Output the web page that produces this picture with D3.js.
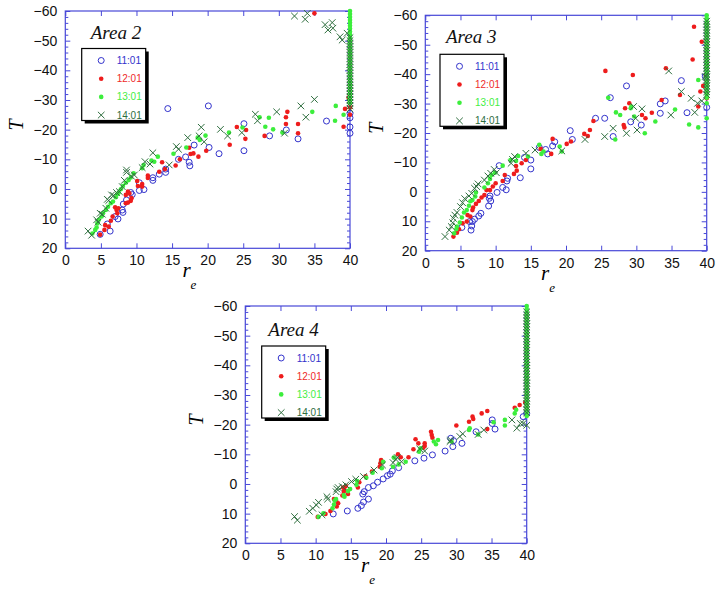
<!DOCTYPE html>
<html><head><meta charset="utf-8">
<script src="https://cdn.jsdelivr.net/npm/d3@7"></script>
<style>body{margin:0;background:#fff}svg{display:block}</style>
</head><body>
<svg id="c" width="719" height="601"></svg>
<script>
// ---------- data ----------
const xTicks = [0,5,10,15,20,25,30,35,40];
const yTicks = [-60,-50,-40,-30,-20,-10,0,10,20];
const yMinorTicks = [-58,-56,-54,-52,-48,-46,-44,-42,-38,-36,-34,-32,-28,-26,-24,-22,-18,-16,-14,-12,-8,-6,-4,-2,2,4,6,8,12,14,16,18];
const seriesNames = ["11:01","12:01","13:01","14:01"];
const areaTitles = ["Area 2","Area 3","Area 4"];

// Area 2
const a2_1101 = [[4.9,15.3],[5.9,11.8],[6.3,14.2],[7.0,9.3],[7.4,10.1],[8.0,7.1],[8.1,7.9],[8.15,5.1],[8.6,3.7],[9.2,1.2],[9.4,1.9],[10.4,-2.1],[10.4,0.5],[11.05,0.2],[12.3,-2.9],[12.3,-3.8],[13.2,-5],[14.1,-5.6],[14.1,-6.7],[14.4,-27.1],[15.9,-10],[16.9,-10.8],[17.4,-9],[17.5,-7.8],[18.1,-14.8],[20.1,-28],[20.2,-14],[21.6,-11.9],[25.1,-22],[25.1,-12.9],[28.7,-17.9],[31.05,-19.9],[32.7,-16.9],[36.7,-22.9],[40,-18.8],[40,-20.9],[40,-24],[40,-25.5]];
const a2_1201 = [[4.9,15.4],[5.5,13.8],[5.6,12.2],[6.1,12.7],[6.4,10.7],[6.65,9.3],[7.0,6.2],[7.2,7.1],[7.3,8.2],[7.45,6.5],[8.5,2],[8.8,0.9],[9.0,1.5],[9.2,4],[8.5,4.8],[8.8,4.6],[9.3,3.1],[10.1,-2.7],[10.2,-1],[10.8,-1.7],[10.8,-0.8],[11.6,-3.7],[11.6,-4.5],[13.2,-5.8],[13.6,-9],[14,-6.7],[15.5,-7.9],[16.1,-10],[17.4,-13.9],[17.6,-11.8],[18,-12],[18.7,-10.9],[19.8,-12.9],[23.1,-14.9],[24.1,-20.9],[25.4,-19.9],[25.3,-16.9],[28,-17.9],[31,-24.2],[31.2,-26],[31,-21.9],[32.7,-21.9],[32.7,-18.8],[39.1,-21],[39.3,-27],[39.8,-30.8],[40,-25],[40,-27.5],[35,-59.2]];
const a2_1301 = [[3.8,15],[4.2,13.8],[4.4,13],[4.5,11.6],[4.7,10.4],[5.1,9.3],[5.3,8.2],[5.7,7.1],[6.0,6],[6.4,4.8],[6.7,4.2],[7.1,2.8],[7.3,1.8],[7.5,1.2],[7.8,0.1],[8.1,-1],[8.5,-2.1],[8.9,-3],[9.2,-3.9],[9.6,-5.3],[10.8,-7],[11,-8.1],[12.1,-9.6],[12.5,-9.2],[13,-10.9],[15.2,-11.9],[17,-14],[18.6,-17.3],[18.9,-16.5],[19.7,-18],[23,-19],[24.9,-20.7],[27.3,-24.2],[28.1,-21],[28.6,-24],[29.2,-20.1],[30.5,-19],[34.7,-26],[37.9,-23],[38,-28],[39.1,-25],[39.9,-30]];
const a2_1301_edge = [-60,-59,-58,-57,-56,-55,-54,-53,-52,-51,-50,-49,-48,-47,-46,-45,-44,-43,-42,-41,-40,-39,-38,-37,-36,-35,-34,-33,-32,-31,-30,-29];
const a2_1401 = [[3.2,14.2],[3.7,15.6],[4.4,10.4],[4.6,11.2],[4.9,8.2],[5.2,8.5],[5.7,6.5],[5.9,3.5],[6.1,3.9],[6.5,2],[6.8,2.2],[7.2,1.2],[7.6,0.9],[8,-0.8],[8.3,-2.9],[8.6,-6.4],[8.6,-5.6],[9.3,-4.3],[9.7,-4.7],[10.8,-7.2],[11.2,-9.2],[11.9,-8.4],[12.3,-12.2],[14.6,-8.1],[15.6,-14.3],[15.9,-13.4],[17.2,-17.3],[18.8,-17.9],[19.1,-20.8],[19.5,-15.9],[21.8,-20.1],[22.8,-17.9],[24.8,-19],[26.7,-25.2],[27,-23],[29.7,-26],[30.8,-18.8],[33.1,-28],[33.8,-24.2],[35,-30.2],[32.2,-58.3],[33.7,-57.2],[34,-59.2],[36.5,-55.4],[36.9,-53.6],[37.5,-56.1],[37.6,-54.2],[38.6,-51.3],[38.9,-50.2],[39.6,-52.5]];
const a2_1401_edge = [-51,-50,-49,-48,-47,-46,-45,-44,-43,-42,-41,-40,-39,-38,-37,-36,-35,-34,-33,-32,-31,-30,-29,-28,-27];

// Area 3
const a3_1101 = [[5.2,12.1],[6.5,13],[6.6,11.6],[6.7,10.1],[6.3,10.1],[7.0,9.3],[7.6,8.2],[7.9,7.3],[9,4.8],[9.3,3.1],[9.1,2.2],[9.2,1.4],[10.2,0.2],[11,-1.5],[11.5,-0.7],[11.6,-3.7],[11.7,-4.6],[13.5,-4.8],[15,-7.8],[15,-10.8],[10.5,-8.9],[14.1,-11.7],[16.2,-15.1],[17.1,-14.4],[17.4,-12.9],[18.1,-15.6],[18.4,-17],[20.6,-20.8],[20.9,-17.8],[24.2,-25],[25.5,-25],[26.3,-32],[26.7,-18.8],[28.6,-36],[29.2,-23.8],[30.7,-22.7],[33.4,-26.7],[33.4,-29.9],[34.1,-30.9],[36.4,-37.8],[37.2,-26.9],[40,-28.7],[39.8,-39.2]];
const a3_1201 = [[4,15.2],[4.5,13.9],[4.8,12.7],[5.3,10.7],[5.9,10.1],[6,7.9],[6.4,8.4],[6.7,6.2],[6.8,5.3],[7.2,4.1],[7.6,3.1],[8,1.9],[8.4,1.1],[8.7,-0.6],[9.2,-0.6],[9.6,-1.8],[10,-2.9],[11,-3.7],[11.3,-5.7],[12.6,-6.1],[12.9,-8.8],[13,-7.2],[13.7,-9.7],[14.3,-10.8],[16.4,-14.6],[17.9,-12.9],[18.1,-18],[20.1,-16.3],[20.7,-17.1],[22.6,-19.7],[23.1,-19],[23.4,-21],[23.9,-24.1],[25.6,-41.1],[28.4,-28.4],[29,-30.1],[29.5,-39.7],[28.2,-22.7],[28.3,-21.9],[30.8,-26.1],[31.3,-25],[32.2,-26.9],[33.6,-31.2],[34.2,-42],[36.2,-32.9],[38,-45],[38.2,-56.1],[39.3,-51],[38.8,-29],[39.1,-34.1],[39.5,-36],[39.9,-39.7],[40,-31.8],[40,-38]];
const a3_1301 = [[4.1,14.1],[4.4,12.7],[4.5,11.8],[4.9,10.4],[5.2,8.7],[5.5,7],[5.9,6.2],[6.2,4.7],[6.4,3.2],[6.7,2.8],[7.1,1.6],[7.2,0.2],[8.4,-1.5],[8.9,-2.9],[9.2,-4.4],[9.4,-5.7],[9.9,-6.5],[11,-8.9],[12.1,-10.8],[12.9,-10.5],[13.2,-12.2],[14.6,-12],[16.2,-16],[16.5,-12.9],[16.8,-13.7],[19.1,-15.4],[19.4,-13.7],[26,-32],[27,-17.8],[27.1,-27],[27.7,-26.1],[29.2,-28.4],[29.3,-29],[29.7,-25.6],[31.2,-19.9],[32.7,-23.9],[35.5,-28],[37.5,-22.9],[38.8,-21.9],[38.8,-38],[40,-25],[40,-30.1]];
const a3_1301_edge = [-60,-59,-58,-57,-56,-55,-54,-53,-52,-51,-50,-49,-48,-47,-46,-45,-44,-43,-42,-41,-40,-39,-38,-37,-36,-35,-34,-33,-32];
const a3_1401 = [[2.8,15.2],[3.4,13],[3.7,11.8],[3.9,10.5],[4,9],[4.2,7.9],[4.5,7],[5,5],[5.3,3.7],[5.6,2.3],[6.2,1.4],[6.6,0.5],[7,-1.2],[7.3,-1.8],[7.5,-2.7],[8.4,-4],[8.9,-5.4],[9.3,-6.3],[9.8,-7.6],[10.1,-6.5],[12.2,-9.7],[12.4,-11],[12.7,-12],[14.3,-13.1],[15.6,-14.2],[19.4,-13.9],[22.7,-17.8],[25.5,-18.8],[26.7,-21.6],[28.6,-19.9],[29.6,-29],[29.9,-25],[30.1,-21],[30.8,-28.2],[34.9,-26.1],[34.6,-41.1],[36.4,-34.1],[37.8,-31.8],[38.3,-27],[38.7,-30.1],[39.3,-30.9],[39.8,-39.2]];
const a3_1401_edge = [-58,-57,-56,-55,-54,-53,-52,-51,-50,-49,-48,-47,-46,-45,-44,-43,-42,-41,-40,-39,-38,-37,-36,-35,-34,-33];

// Area 4
const a4_1101 = [[12.5,10.1],[14.5,9.1],[16,8.2],[16.5,7.3],[16.8,6.1],[17.5,5.1],[16.7,3.4],[16.9,2.6],[17.5,1.2],[18.2,0.6],[18.8,-0.6],[19.6,-1.7],[20.2,-2.8],[20.6,-3.3],[20.9,-4.4],[21.8,-5.5],[24.1,-7.8],[25.4,-8.7],[26.6,-9.8],[28.4,-11.1],[29.5,-12.6],[29.2,-15.4],[29.6,-14.6],[30.8,-13.7],[32.8,-17.6],[35.1,-20.4],[35.1,-21.6],[35.5,-18.5],[39.5,-22.7],[40,-23.8]];
const a4_1201 = [[10.3,11.1],[11.4,10.1],[12.1,9.1],[13,7.6],[13.2,6.5],[12.9,5.6],[12.6,5.1],[13.8,3.9],[14,2.6],[14.1,2],[13.9,1.2],[14.3,0.7],[14.6,3.4],[16,1.2],[16.2,-0.6],[17.1,-2.6],[18,-4.2],[19.1,-5.8],[19.2,-7],[19.3,-8.1],[22.1,-9],[21.7,-10],[23.2,-9],[23.9,-11.7],[24.2,-15.1],[24.6,-13.7],[25.3,-12.2],[25.5,-12.8],[25.5,-13.7],[26.4,-17.6],[26.5,-16.5],[26.6,-15.6],[30,-19.7],[31.8,-21],[32.3,-22.7],[32.4,-21.9],[33.6,-23.8],[34.4,-24.6],[34.4,-18.5],[38.3,-25.7],[39,-26.6],[39.8,-27.5]];
const a4_1301 = [[10.4,11.1],[11.1,9.9],[12.4,8.2],[12.6,6.9],[12.7,5.6],[12.9,5.1],[14.1,4.3],[14,3.7],[14.6,2.4],[14.9,1.7],[15.8,0.3],[15.9,-1],[17.2,-2.1],[18.1,-3.8],[19.4,-5.3],[19.6,-7.5],[21,-5.8],[21.1,-8.9],[21.8,-6.6],[22.8,-7.5],[24.7,-10.9],[24.9,-12],[27.1,-13.4],[26.8,-14.3],[27.4,-14.8],[29.3,-14.3],[31.8,-18.2],[31.9,-18.8],[33.1,-16.7],[35.3,-20.8],[36.9,-21.6],[36.9,-19.7],[38.3,-23.8],[38.5,-25],[40,-22.9]];
const a4_1301_edge = [-60,-59,-58,-57,-56,-55,-54,-53,-52,-51,-50,-49,-48,-47,-46,-45,-44,-43,-42,-41,-40,-39,-38,-37,-36,-35,-34,-33,-32,-31,-30,-29,-28,-27,-26,-25,-24];
const a4_1401 = [[7,11],[7.4,12.2],[9.1,9.2],[9.6,8.2],[10.1,7.1],[10.4,6.2],[10.9,10.4],[11.6,4.3],[11.7,5.1],[12.9,2.6],[13,1.7],[13.2,1.2],[13.8,0.9],[14.3,0.3],[15.1,-0.8],[15.7,-1.6],[16.8,-2.5],[18.3,-4.7],[19.5,-6.4],[21,-7.2],[21.4,-8.3],[21.6,-8.9],[22.2,-7.5],[24.8,-11.8],[25.5,-11.1],[29.1,-14.3],[29.2,-14.8],[30.5,-16],[30.9,-16.9],[33.1,-16.7],[33.9,-18.2],[37.9,-21.6],[38.6,-18.8],[39.1,-20.4],[39.5,-20.4],[40,-19.8]];
const a4_1401_edge = [-58,-57,-56,-55,-54,-53,-52,-51,-50,-49,-48,-47,-46,-45,-44,-43,-42,-41,-40,-39,-38,-37,-36,-35,-34,-33,-32,-31,-30,-29,-28,-27,-26,-25,-24];

const edgeR = 40;
const areaSeries = [
  [a2_1101, a2_1201, a2_1301.concat(a2_1301_edge.map(v=>[edgeR,v])), a2_1401.concat(a2_1401_edge.map(v=>[edgeR,v]))],
  [a3_1101, a3_1201, a3_1301.concat(a3_1301_edge.map(v=>[edgeR,v])), a3_1401.concat(a3_1401_edge.map(v=>[edgeR,v]))],
  [a4_1101, a4_1201, a4_1301.concat(a4_1301_edge.map(v=>[edgeR,v])), a4_1401.concat(a4_1401_edge.map(v=>[edgeR,v]))]
];

// ---------- layout & style ----------
const panels = [
  {left:65.3, top:11,   right:350,   bottom:248.3, lg:[16.4,37.5], tt:[25.4,28]},
  {left:425.3,top:15.3, right:706.7, bottom:250.7, lg:[14.7,39],   tt:[20.7,28]},
  {left:245.3,top:306,  right:526.7, bottom:543.3, lg:[16.4,40],   tt:[23,29.7]}
];
const frameColor = "#4848d8";
const colors = ["#3333cc","#ee1c1c","#3cee3c","#2e6e3e"];
const textColors = ["#3333cc","#ee2a2a","#44ee44","#2e6e3e"];
const serif = "'Liberation Serif', 'Times New Roman', serif";
const sans = "Arial, 'Liberation Sans', sans-serif";

const svg = d3.select("#c");

function drawMarker(g, k, cx, cy) {
  if (k === 0) {
    g.append("circle").attr("cx",cx).attr("cy",cy).attr("r",3)
      .attr("fill","none").attr("stroke",colors[0]).attr("stroke-width",1);
  } else if (k === 1 || k === 2) {
    g.append("circle").attr("cx",cx).attr("cy",cy).attr("r",2.3).attr("fill",colors[k]);
  } else {
    const s = 3.3;
    g.append("path").attr("d",`M${cx-s},${cy-s}L${cx+s},${cy+s}M${cx-s},${cy+s}L${cx+s},${cy-s}`)
      .attr("stroke",colors[3]).attr("stroke-width",1).attr("fill","none");
  }
}

panels.forEach((p, i) => {
  const x = d3.scaleLinear().domain([0,40]).range([p.left,p.right]);
  const y = d3.scaleLinear().domain([-60,20]).range([p.top,p.bottom]);
  const g = svg.append("g");

  const styleAxis = sel => {
    sel.select(".domain").remove();
    sel.selectAll("line").attr("stroke",frameColor);
    sel.selectAll("text").attr("fill","#111").style("font-family",sans).style("font-size","14px");
  };
  g.append("g").attr("transform",`translate(0,${p.bottom})`)
    .call(d3.axisBottom(x).tickValues(xTicks).tickSize(-5).tickPadding(7).tickFormat(d3.format("d"))).call(styleAxis);
  g.append("g").attr("transform",`translate(0,${p.top})`)
    .call(d3.axisTop(x).tickValues(xTicks).tickSize(-5).tickFormat("")).call(styleAxis);
  g.append("g").attr("transform",`translate(${p.left},0)`)
    .call(d3.axisLeft(y).tickValues(yTicks).tickSize(-5).tickPadding(8).tickFormat(d3.format("d"))).call(styleAxis);
  g.append("g").attr("transform",`translate(${p.left},0)`)
    .call(d3.axisLeft(y).tickValues(yMinorTicks).tickSize(-3).tickFormat("")).call(styleAxis);
  g.append("g").attr("transform",`translate(${p.right},0)`)
    .call(d3.axisRight(y).tickValues(yTicks).tickSize(-5).tickFormat("")).call(styleAxis);
  g.append("g").attr("transform",`translate(${p.right},0)`)
    .call(d3.axisRight(y).tickValues(yMinorTicks).tickSize(-3).tickFormat("")).call(styleAxis);

  g.append("rect").attr("x",p.left).attr("y",p.top).attr("width",p.right-p.left).attr("height",p.bottom-p.top)
    .attr("fill","none").attr("stroke",frameColor).attr("stroke-width",1.2);

  areaSeries[i].forEach((pts, k) => {
    const sg = g.append("g");
    pts.forEach(d => drawMarker(sg, k, x(d[0]), y(d[1])));
  });

  // axis titles
  const tx = p.left - 49, ty = p.top + 0.48*(p.bottom-p.top);
  g.append("text").attr("transform",`translate(${tx},${ty}) rotate(-90)`).attr("text-anchor","middle")
    .attr("dy","0.35em").style("font-family",serif).style("font-style","italic")
    .style("font-size","20px").text("T");
  const rx = p.left + 0.436*(p.right-p.left) - 7;
  const rt = g.append("text").attr("x",rx).attr("y",p.bottom+29)
    .style("font-family",serif).style("font-style","italic");
  rt.append("tspan").style("font-size","21px").text("r");
  rt.append("tspan").attr("dx",0).attr("dy",12).style("font-size","13px").text("e");

  // title
  g.append("text").attr("x",p.left+p.tt[0]).attr("y",p.top+p.tt[1])
    .style("font-family",serif).style("font-style","italic")
    .style("font-size","19px").attr("fill","#111").text(areaTitles[i]);

  // legend
  const lx = p.left + p.lg[0], ly = p.top + p.lg[1], lw = 64, lh = 72;
  const lg = g.append("g");
  lg.append("rect").attr("x",lx+3).attr("y",ly+3).attr("width",lw).attr("height",lh).attr("fill","#000");
  lg.append("rect").attr("x",lx).attr("y",ly).attr("width",lw).attr("height",lh).attr("fill","#fff").attr("stroke","#000").attr("stroke-width",1.2);
  seriesNames.forEach((name, k) => {
    const yy = ly + 12 + k*18.2;
    drawMarker(lg, k, lx+19.5, yy);
    lg.append("text").attr("x",lx+35).attr("y",yy).attr("dy","0.35em")
      .style("font-family",sans).style("font-size","10px")
      .attr("fill",textColors[k]).text(name);
  });
});
</script>
</body></html>
